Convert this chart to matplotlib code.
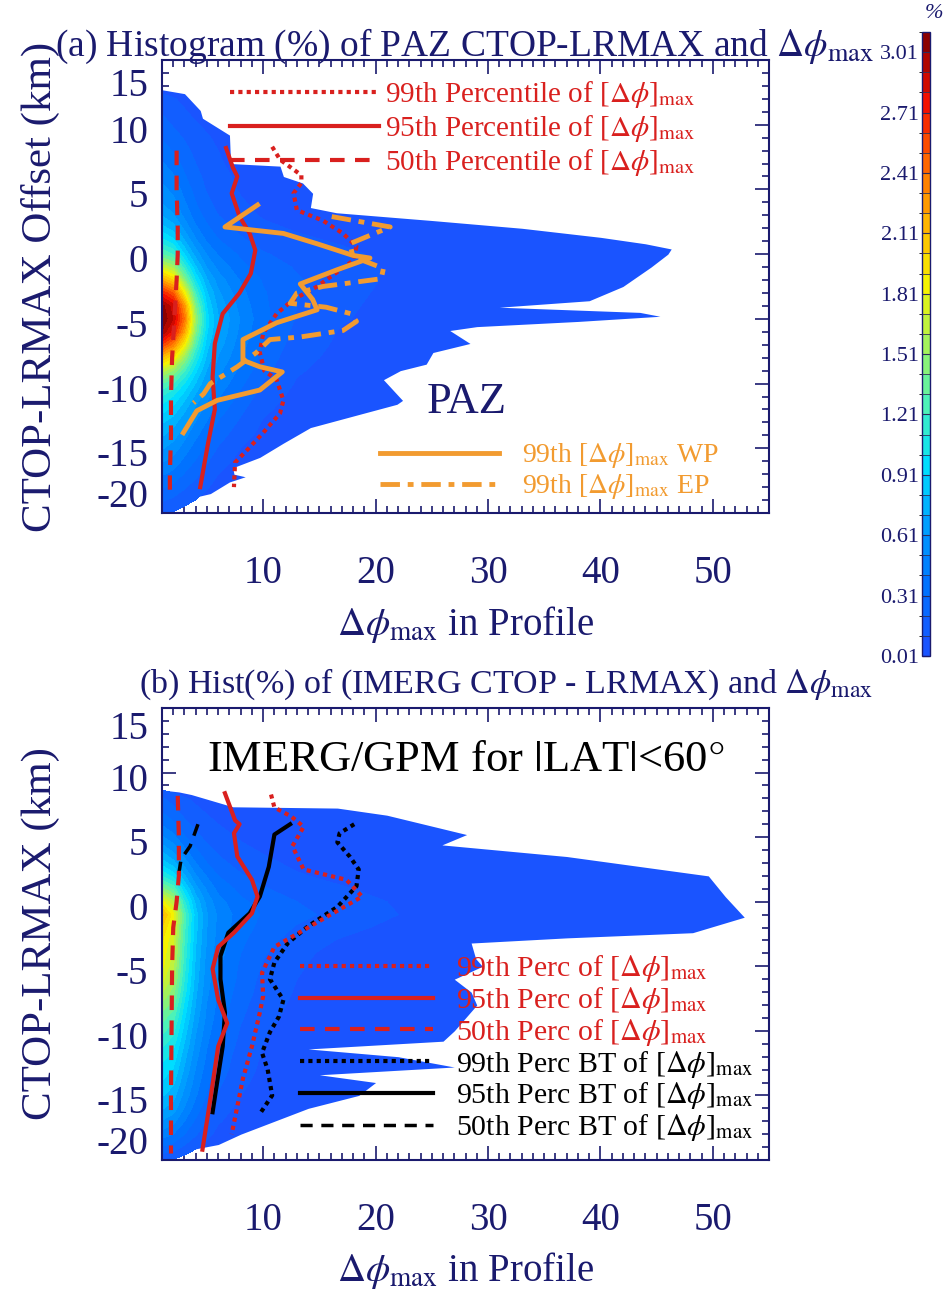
import matplotlib
matplotlib.use('Agg')
import matplotlib.pyplot as plt
import matplotlib.transforms as mtransforms
import numpy as np
from matplotlib.colors import LinearSegmentedColormap, BoundaryNorm
from matplotlib.ticker import MultipleLocator
from matplotlib.cm import ScalarMappable

plt.rcParams['font.family'] = ['Liberation Serif', 'DejaVu Serif']
plt.rcParams['mathtext.fontset'] = 'stix'
plt.rcParams['axes.unicode_minus'] = False

# ---- histogram core (%), rows = offset km, columns = dphi_max
xs_core = [1, 2, 3, 4, 5, 6, 8, 10, 13, 17, 22]
ys_core = [14, 13, 12, 11, 10, 9, 8, 7, 6, 5, 4, 3, 2, 1, 0, -1, -2, -3, -4, -5, -6,
           -7, -8, -9, -10, -11, -12, -13, -14, -15, -16, -17, -18, -19, -20]
hist_a = [
    [0, 0, 0, 0, 0, 0, 0, 0, 0, 0, 0],
    [0.05, 0, 0, 0, 0, 0, 0, 0, 0, 0, 0],
    [0.15, 0.12, 0.08, 0, 0, 0, 0, 0, 0, 0, 0],
    [0.2, 0.17, 0.12, 0.08, 0.05, 0, 0, 0, 0, 0, 0],
    [0.25, 0.2, 0.15, 0.12, 0.09, 0.06, 0, 0, 0, 0, 0],
    [0.3, 0.25, 0.2, 0.15, 0.12, 0.09, 0.05, 0, 0, 0, 0],
    [0.36, 0.3, 0.24, 0.18, 0.14, 0.11, 0.07, 0.04, 0, 0, 0],
    [0.42, 0.36, 0.28, 0.21, 0.16, 0.12, 0.08, 0.05, 0.03, 0, 0],
    [0.48, 0.42, 0.32, 0.24, 0.18, 0.14, 0.09, 0.06, 0.04, 0, 0],
    [0.54, 0.48, 0.37, 0.27, 0.2, 0.16, 0.1, 0.07, 0.05, 0.03, 0],
    [0.6, 0.54, 0.42, 0.31, 0.23, 0.18, 0.12, 0.08, 0.06, 0.04, 0],
    [0.7, 0.62, 0.48, 0.36, 0.27, 0.21, 0.14, 0.1, 0.07, 0.05, 0.03],
    [0.85, 0.76, 0.58, 0.43, 0.33, 0.26, 0.18, 0.13, 0.1, 0.07, 0.04],
    [1.05, 0.95, 0.72, 0.53, 0.4, 0.32, 0.23, 0.17, 0.13, 0.1, 0.06],
    [1.3, 1.2, 0.9, 0.66, 0.5, 0.4, 0.29, 0.22, 0.17, 0.13, 0.08],
    [1.7, 1.55, 1.15, 0.82, 0.6, 0.48, 0.34, 0.26, 0.2, 0.15, 0.09],
    [2.2, 2.0, 1.45, 1.0, 0.72, 0.56, 0.4, 0.3, 0.22, 0.15, 0.09],
    [2.7, 2.5, 1.85, 1.2, 0.82, 0.63, 0.44, 0.32, 0.22, 0.14, 0.08],
    [3.05, 2.85, 2.25, 1.4, 0.9, 0.68, 0.47, 0.33, 0.21, 0.13, 0.07],
    [3.1, 2.9, 2.4, 1.5, 0.95, 0.72, 0.5, 0.34, 0.2, 0.12, 0.06],
    [3.0, 2.75, 2.2, 1.42, 0.92, 0.7, 0.48, 0.32, 0.18, 0.1, 0.05],
    [2.6, 2.35, 1.85, 1.25, 0.85, 0.66, 0.45, 0.3, 0.16, 0.09, 0.05],
    [2.1, 1.9, 1.5, 1.08, 0.78, 0.6, 0.42, 0.27, 0.14, 0.08, 0.04],
    [1.65, 1.5, 1.22, 0.93, 0.7, 0.54, 0.38, 0.24, 0.12, 0.07, 0.03],
    [1.3, 1.2, 1.0, 0.8, 0.62, 0.48, 0.33, 0.2, 0.1, 0.05, 0.03],
    [1.1, 1.0, 0.85, 0.68, 0.54, 0.42, 0.28, 0.16, 0.08, 0.04, 0.02],
    [0.95, 0.87, 0.73, 0.58, 0.46, 0.36, 0.23, 0.13, 0.06, 0.03, 0],
    [0.82, 0.75, 0.63, 0.5, 0.4, 0.3, 0.19, 0.1, 0.05, 0, 0],
    [0.72, 0.65, 0.54, 0.43, 0.34, 0.25, 0.15, 0.08, 0.04, 0, 0],
    [0.62, 0.56, 0.46, 0.36, 0.28, 0.2, 0.11, 0.06, 0, 0, 0],
    [0.52, 0.47, 0.38, 0.3, 0.22, 0.15, 0.08, 0.04, 0, 0, 0],
    [0.42, 0.38, 0.3, 0.23, 0.17, 0.11, 0.05, 0, 0, 0, 0],
    [0.32, 0.28, 0.22, 0.17, 0.12, 0.07, 0, 0, 0, 0, 0],
    [0.22, 0.19, 0.15, 0.11, 0.06, 0, 0, 0, 0, 0, 0],
    [0.12, 0.1, 0.06, 0, 0, 0, 0, 0, 0, 0, 0],
]
hist_b = [
    [0, 0, 0, 0, 0, 0, 0, 0, 0, 0, 0],
    [0, 0, 0, 0, 0, 0, 0, 0, 0, 0, 0],
    [0, 0, 0, 0, 0, 0, 0, 0, 0, 0, 0],
    [0, 0, 0, 0, 0, 0, 0, 0, 0, 0, 0],
    [0, 0, 0, 0, 0, 0, 0, 0, 0, 0, 0],
    [0.05, 0.03, 0, 0, 0, 0, 0, 0, 0, 0, 0],
    [0.22, 0.17, 0.12, 0.09, 0.07, 0.05, 0.03, 0, 0, 0, 0],
    [0.3, 0.24, 0.17, 0.13, 0.1, 0.08, 0.06, 0.05, 0.03, 0, 0],
    [0.4, 0.33, 0.24, 0.18, 0.14, 0.11, 0.08, 0.06, 0.04, 0.02, 0],
    [0.52, 0.44, 0.32, 0.24, 0.18, 0.14, 0.1, 0.07, 0.05, 0.03, 0],
    [0.68, 0.58, 0.43, 0.32, 0.24, 0.19, 0.13, 0.1, 0.06, 0.04, 0.02],
    [0.86, 0.75, 0.56, 0.41, 0.31, 0.24, 0.17, 0.13, 0.09, 0.05, 0.03],
    [1.1, 0.97, 0.72, 0.52, 0.4, 0.31, 0.22, 0.17, 0.12, 0.08, 0.05],
    [1.45, 1.28, 0.92, 0.65, 0.49, 0.38, 0.28, 0.22, 0.16, 0.12, 0.07],
    [1.85, 1.62, 1.12, 0.78, 0.57, 0.45, 0.33, 0.27, 0.21, 0.15, 0.1],
    [2.15, 1.85, 1.25, 0.85, 0.62, 0.49, 0.36, 0.3, 0.24, 0.17, 0.11],
    [2.0, 1.78, 1.23, 0.84, 0.61, 0.48, 0.35, 0.28, 0.2, 0.14, 0.08],
    [1.92, 1.72, 1.2, 0.82, 0.6, 0.47, 0.33, 0.25, 0.16, 0.1, 0.05],
    [1.88, 1.68, 1.17, 0.8, 0.58, 0.45, 0.31, 0.22, 0.13, 0.08, 0.04],
    [1.84, 1.63, 1.14, 0.78, 0.56, 0.43, 0.29, 0.2, 0.12, 0.07, 0.04],
    [1.75, 1.56, 1.1, 0.76, 0.55, 0.42, 0.28, 0.18, 0.11, 0.06, 0.03],
    [1.62, 1.46, 1.05, 0.73, 0.53, 0.4, 0.26, 0.17, 0.1, 0.05, 0.03],
    [1.48, 1.35, 0.98, 0.7, 0.5, 0.38, 0.24, 0.15, 0.09, 0.05, 0.03],
    [1.35, 1.24, 0.92, 0.66, 0.48, 0.36, 0.22, 0.14, 0.08, 0.04, 0.02],
    [1.24, 1.14, 0.86, 0.62, 0.45, 0.33, 0.2, 0.12, 0.07, 0.04, 0.02],
    [1.14, 1.05, 0.8, 0.58, 0.42, 0.31, 0.18, 0.11, 0.06, 0.03, 0],
    [1.05, 0.97, 0.74, 0.54, 0.39, 0.28, 0.16, 0.1, 0.05, 0.03, 0],
    [0.97, 0.9, 0.69, 0.5, 0.36, 0.26, 0.15, 0.09, 0.05, 0.02, 0],
    [0.9, 0.83, 0.63, 0.46, 0.33, 0.23, 0.13, 0.08, 0.04, 0, 0],
    [0.82, 0.75, 0.57, 0.42, 0.3, 0.2, 0.11, 0.06, 0.03, 0, 0],
    [0.72, 0.66, 0.5, 0.36, 0.25, 0.16, 0.08, 0.04, 0, 0, 0],
    [0.6, 0.54, 0.41, 0.29, 0.2, 0.12, 0.06, 0.03, 0, 0, 0],
    [0.46, 0.41, 0.31, 0.22, 0.14, 0.08, 0.03, 0, 0, 0, 0],
    [0.3, 0.26, 0.19, 0.13, 0.07, 0.03, 0, 0, 0, 0, 0],
    [0.12, 0.1, 0.06, 0, 0, 0, 0, 0, 0, 0, 0],
]

# ---- outer extent of the histogram (first level 0.01 %)
edge_a_y = [12.7, 12.4, 11.1, 10.5, 9.2, 7.0, 6.8, 6.0, 5.5, 4.7, 3.6, 3.2, 2.6, 2.0, 1.3,
            0.8, 0.4, 0.0, -1.0, -2.5, -3.6, -4.1, -4.5, -4.8, -5.2, -5.6, -5.9, -6.9,
            -7.6, -8.5, -9.0, -9.7, -11.3, -11.6, -12.3, -13.4, -14.6, -15.7, -16.5,
            -17.0, -17.2, -17.6, -18.5, -19.0, -19.4, -19.6]
edge_a_x = [1.0, 3.0, 4.4, 4.6, 7.0, 7.1, 11.5, 11.8, 13.5, 14.4, 14.2, 16.5, 25.0, 33.0, 40.0,
            44.0, 46.3, 46.0, 44.5, 42.0, 39.0, 31.0, 43.5, 45.3, 38.0, 29.0, 26.6, 28.4,
            25.1, 24.5, 22.2, 20.7, 22.4, 21.9, 18.9, 14.2, 11.8, 9.7, 7.3,
            7.4, 8.4, 7.0, 5.3, 2.85, 1.4, 1.0]
edge_b_y = [8.6, 8.5, 8.3, 7.35, 7.25, 6.7, 5.2, 4.4, 3.5, 2.0, 0.4, -1.2, -2.4, -2.8, -3.2,
            -4.4, -5.0, -6.0, -7.0, -8.0, -9.0, -10.0, -10.8, -11.4, -12.0, -12.8, -13.4,
            -14.0, -15.0, -16.0, -17.0, -18.0, -18.8, -19.3, -19.6]
edge_b_x = [1.5, 2.5, 3.6, 7.3, 16.6, 21.0, 28.1, 25.9, 37.0, 49.6, 51.1, 52.8, 48.2, 37.0, 28.5,
            28.9, 29.5, 27.0, 28.5, 29.0, 28.0, 27.0, 26.0, 14.0, 22.0, 27.0, 15.0,
            20.0, 18.5, 14.0, 11.0, 8.0, 6.0, 3.0, 1.0]

# ---- percentile curves, panel (a)
p50_a_y = [8, 5, 2, 0, -2, -5, -8, -11, -14, -17, -18.2]
p50_a_x = [2.3, 2.3, 2.4, 2.4, 2.3, 2.1, 1.9, 1.8, 1.8, 1.7, 1.7]
p95_a_y = [8.2, 6.7, 6.0, 4.7, 2.9, 1.6, 0.3, -1.5, -3.0, -4.6, -6.9, -9.5, -12.0, -14.6, -18.0]
p95_a_x = [6.7, 7.3, 7.7, 7.2, 7.9, 8.8, 9.3, 8.9, 7.9, 6.4, 5.7, 5.5, 5.7, 5.1, 4.4]
p99_a_y = [8.3, 7.3, 6.1, 5.5, 4.7, 3.4, 2.6, 1.6, 0.6, -0.5, -2.5, -3.5, -4.6, -6.1, -7.6,
           -9.0, -9.7, -11.3, -12.3, -13.8, -15.2, -16.1, -18.0]
p99_a_x = [10.8, 11.5, 13.4, 13.4, 12.7, 13.0, 15.3, 17.1, 18.3, 18.0, 14.8, 12.7, 11.2, 10.0, 9.7,
           10.1, 11.2, 11.8, 11.5, 10.0, 8.5, 7.5, 7.4]
wp_a_y = [3.8, 2.1, 1.6, 0.8, -0.1, -0.3, -1.2, -2.3, -3.5, -4.3, -5.3, -6.6, -8.2, -8.7,
          -9.1, -10.5, -11.3, -12.1, -13.8]
wp_a_x = [9.5, 6.6, 11.8, 14.8, 18.0, 19.5, 16.6, 13.3, 14.4, 14.8, 11.2, 8.2, 8.2, 9.7,
          11.7, 9.7, 5.9, 4.1, 2.9]
ep_a_y = [2.9, 2.1, 0.8, -0.2, -1.1, -1.9, -2.5, -3.0, -3.8, -4.1, -4.6, -5.2, -5.9, -6.4,
          -6.6, -7.6, -8.7, -10.0, -10.8, -11.5]
ep_a_x = [16.1, 21.3, 17.7, 18.0, 20.7, 20.5, 15.3, 13.0, 12.4, 15.6, 17.8, 18.3, 17.1, 13.3,
          10.6, 9.4, 7.7, 5.3, 4.7, 3.8]

# ---- percentile curves, panel (b)
p50_b_y = [8.2, 5, 2, 0, -2, -5, -10, -15, -19.5]
p50_b_x = [2.4, 2.5, 2.5, 2.3, 2.0, 1.9, 1.85, 1.8, 1.8]
p95_b_y = [8.4, 6.3, 6.0, 5.3, 3.5, 1.7, 0.4, -0.9, -2.4, -3.5, -5.2, -7.6, -9.4, -11.2, -15.3, -19.2]
p95_b_x = [6.6, 7.5, 7.9, 7.4, 7.7, 9.0, 9.5, 9.0, 7.4, 6.0, 5.5, 6.0, 6.8, 6.0, 5.3, 4.6]
p99_b_y = [8.3, 7.3, 6.6, 5.8, 4.3, 2.5, 1.7, 0.4, -0.9, -2.2, -3.5, -5.5, -7.3, -8.6, -11.2, -13.7, -18.0]
p99_b_x = [10.7, 11.0, 12.5, 13.6, 12.6, 13.6, 17.4, 18.8, 16.2, 13.6, 11.0, 9.9, 10.0, 9.7, 9.0, 8.2, 7.2]
bt50_b_y = [6.0, 4.3, 3.3, 2.2, 1.5]
bt50_b_x = [4.2, 3.5, 2.7, 2.5, 2.5]
bt95_b_y = [6.0, 5.2, 2.7, 0.4, -0.9, -2.4, -4.2, -6.0, -8.6, -11.2, -14.0, -16.3]
bt95_b_x = [12.4, 11.0, 10.5, 9.7, 8.8, 6.9, 6.2, 6.2, 6.6, 6.4, 5.9, 5.5]
bt99_b_y = [6.0, 5.3, 4.6, 3.5, 2.5, 1.2, -0.4, -1.9, -3.2, -4.7, -6.0, -7.6, -8.9, -10.1,
            -11.7, -13.0, -15.0, -16.3]
bt99_b_x = [18.1, 16.8, 16.6, 17.7, 18.5, 18.3, 16.6, 14.0, 12.2, 11.0, 10.6, 11.8, 11.4, 10.6,
            9.9, 10.4, 10.8, 9.8]

levels = np.round(np.arange(0.01, 3.12, 0.1), 2)
cbar_ticks = np.round(np.arange(0.01, 3.02, 0.3), 2)
y_ticks = [-20, -15, -10, -5, 0, 5, 10, 15]

navy = '#1a1a6e'
red = '#d9201e'
orange = '#f29b30'

cmap = LinearSegmentedColormap.from_list('hist', [
    (0.0, (0.10, 0.33, 1.0)), (0.1, (0.0, 0.45, 1.0)), (0.2, (0.0, 0.62, 1.0)),
    (0.3, (0.0, 0.87, 1.0)), (0.4, (0.3, 0.95, 0.72)), (0.5, (0.65, 0.95, 0.35)),
    (0.6, (0.96, 0.95, 0.0)), (0.7, (1.0, 0.7, 0.0)), (0.8, (1.0, 0.4, 0.0)),
    (0.9, (0.95, 0.05, 0.0)), (1.0, (0.55, 0.0, 0.0))])
norm = BoundaryNorm(levels, cmap.N)

fig = plt.figure(figsize=(9.43, 13), dpi=100)
ax_a = fig.add_axes([162 / 943, 1 - 513 / 1300, 607 / 943, 453 / 1300])
ax_b = fig.add_axes([162 / 943, 1 - 1160 / 1300, 607 / 943, 452 / 1300])
cax = fig.add_axes([922 / 943, 1 - 656 / 1300, 8 / 943, 624 / 1300])


def draw_hist(ax, hist, ex, ey):
    ax.fill_betweenx(ey, 1, ex, color=cmap(norm(0.05)), lw=0, zorder=1)
    ax.contourf(xs_core, ys_core, np.array(hist), levels=levels[1:], cmap=cmap,
                norm=norm, zorder=2)


def style_axes(ax, ylabel, top_shift):
    ax.set_xlim(1, 55)
    ax.set_ylim(-20, 15)
    ax.xaxis.set_major_locator(MultipleLocator(10))
    ax.xaxis.set_minor_locator(MultipleLocator(1))
    ax.set_yticks(y_ticks)
    ax.yaxis.set_minor_locator(MultipleLocator(1))
    ax.tick_params(which='both', direction='in', top=True, right=True, color=navy,
                   labelcolor=navy, labelsize=28, width=1.2)
    ax.tick_params(which='major', length=10)
    ax.tick_params(which='minor', length=5)
    ax.tick_params(axis='x', pad=30)
    ax.tick_params(axis='y', pad=10)
    for s in ax.spines.values():
        s.set_color(navy)
        s.set_linewidth(1.5)
    ax.set_xlabel(r'$\Delta\phi_{\rm max}$ in Profile', fontsize=28, color=navy)
    ax.xaxis.set_label_coords(0.5, -0.2)
    ax.set_ylabel(ylabel, fontsize=31, color=navy)
    ax.yaxis.set_label_coords(-0.168, 0.5)
    # labels sit a little below their ticks; end labels pulled inside the frame
    ticks = ax.yaxis.get_major_ticks()
    for i, t in enumerate(ticks):
        dy = -4
        if i == 0:
            dy = 20
        elif i == len(ticks) - 1:
            dy = -top_shift
        t.label1.set_transform(t.label1.get_transform() +
                               mtransforms.ScaledTranslation(0, dy / 100, fig.dpi_scale_trans))


lab = r'[$\Delta\phi$]$_{\rm max}$'

# ---- panel (a)
draw_hist(ax_a, hist_a, edge_a_x, edge_a_y)
l99, = ax_a.plot(p99_a_x, p99_a_y, color=red, lw=3, ls=(0, (1, 1)), zorder=4)
l95, = ax_a.plot(p95_a_x, p95_a_y, color=red, lw=3, zorder=4)
l50, = ax_a.plot(p50_a_x, p50_a_y, color=red, lw=3, ls=(0, (3.5, 2.5)), zorder=4)
lwp, = ax_a.plot(wp_a_x, wp_a_y, color=orange, lw=3.5, zorder=5)
lep, = ax_a.plot(ep_a_x, ep_a_y, color=orange, lw=3.5, ls=(0, (4, 1.6, 1.2, 1.6)), zorder=5)
style_axes(ax_a, 'CTOP-LRMAX Offset (km)', 22)

leg1 = ax_a.legend([l99, l95, l50],
                   ['99th Percentile of ' + lab, '95th Percentile of ' + lab,
                    '50th Percentile of ' + lab],
                   loc='upper left', bbox_to_anchor=(0.112, 0.958), frameon=False,
                   fontsize=21, handlelength=5.1, handletextpad=0.2, labelspacing=0.1,
                   borderpad=0, borderaxespad=0, labelcolor='linecolor')
ax_a.add_artist(leg1)
ax_a.legend([lwp, lep], ['99th ' + lab + ' WP', '99th ' + lab + ' EP'],
            loc='upper left', bbox_to_anchor=(0.359, 0.158), frameon=False,
            fontsize=20, handlelength=4.3, handletextpad=0.8, labelspacing=0.07,
            borderpad=0, borderaxespad=0, labelcolor='linecolor')
ax_a.text(28.1, -11.4, 'PAZ', fontsize=32, color=navy, ha='center', va='center')

# ---- panel (b)
draw_hist(ax_b, hist_b, edge_b_x, edge_b_y)
k50, = ax_b.plot(bt50_b_x, bt50_b_y, color='black', lw=2.5, ls=(0, (3.5, 2.5)), zorder=3)
k95, = ax_b.plot(bt95_b_x, bt95_b_y, color='black', lw=3, zorder=3)
k99, = ax_b.plot(bt99_b_x, bt99_b_y, color='black', lw=3, ls=(0, (1, 1)), zorder=3)
r99, = ax_b.plot(p99_b_x, p99_b_y, color=red, lw=3, ls=(0, (1, 1)), zorder=4)
r95, = ax_b.plot(p95_b_x, p95_b_y, color=red, lw=3, zorder=4)
r50, = ax_b.plot(p50_b_x, p50_b_y, color=red, lw=3, ls=(0, (3.5, 2.5)), zorder=4)
style_axes(ax_b, 'CTOP-LRMAX (km)', 17)
ax_b.legend([r99, r95, r50, k99, k95, k50],
            ['99th Perc of ' + lab, '95th Perc of ' + lab, '50th Perc of ' + lab,
             '99th Perc BT of ' + lab, '95th Perc BT of ' + lab, '50th Perc BT of ' + lab],
            loc='upper left', bbox_to_anchor=(0.227, 0.457), frameon=False,
            fontsize=21.5, handlelength=4.45, handletextpad=0.77, labelspacing=0.025,
            borderpad=0, borderaxespad=0, labelcolor='linecolor')
ax_b.text(0.5, 0.885, r'IMERG/GPM for $|$LAT$|$<60$\degree$', transform=ax_b.transAxes,
          fontsize=32, color='black', ha='center', va='center')

# ---- titles
fig.text(465 / 943, 1 - 56 / 1300, r'(a) Histogram (%) of PAZ CTOP-LRMAX and $\Delta\phi_{\rm max}$',
         fontsize=27, color=navy, ha='center', va='baseline')
fig.text(506 / 943, 1 - 693 / 1300, r'(b) Hist(%) of (IMERG CTOP - LRMAX) and $\Delta\phi_{\rm max}$',
         fontsize=24.5, color=navy, ha='center', va='baseline')

# ---- colour bar
cb = fig.colorbar(ScalarMappable(norm=norm, cmap=cmap), cax=cax, ticks=cbar_ticks,
                  drawedges=True)
cb.outline.set_edgecolor(navy)
cb.outline.set_linewidth(1)
cb.dividers.set_color('#333355')
cb.dividers.set_linewidth(0.6)
cax.yaxis.set_ticks_position('left')
cax.yaxis.set_label_position('left')
cax.tick_params(direction='in', length=5, color=navy, labelcolor=navy, labelsize=16, pad=2)
cax.set_yticklabels(['%.2f' % t for t in cbar_ticks])
fig.text(934 / 943, 1 - 14 / 1300, '%', fontsize=16, color=navy, style='italic',
         ha='center', va='center')

fig.savefig('out.png', dpi=100)
